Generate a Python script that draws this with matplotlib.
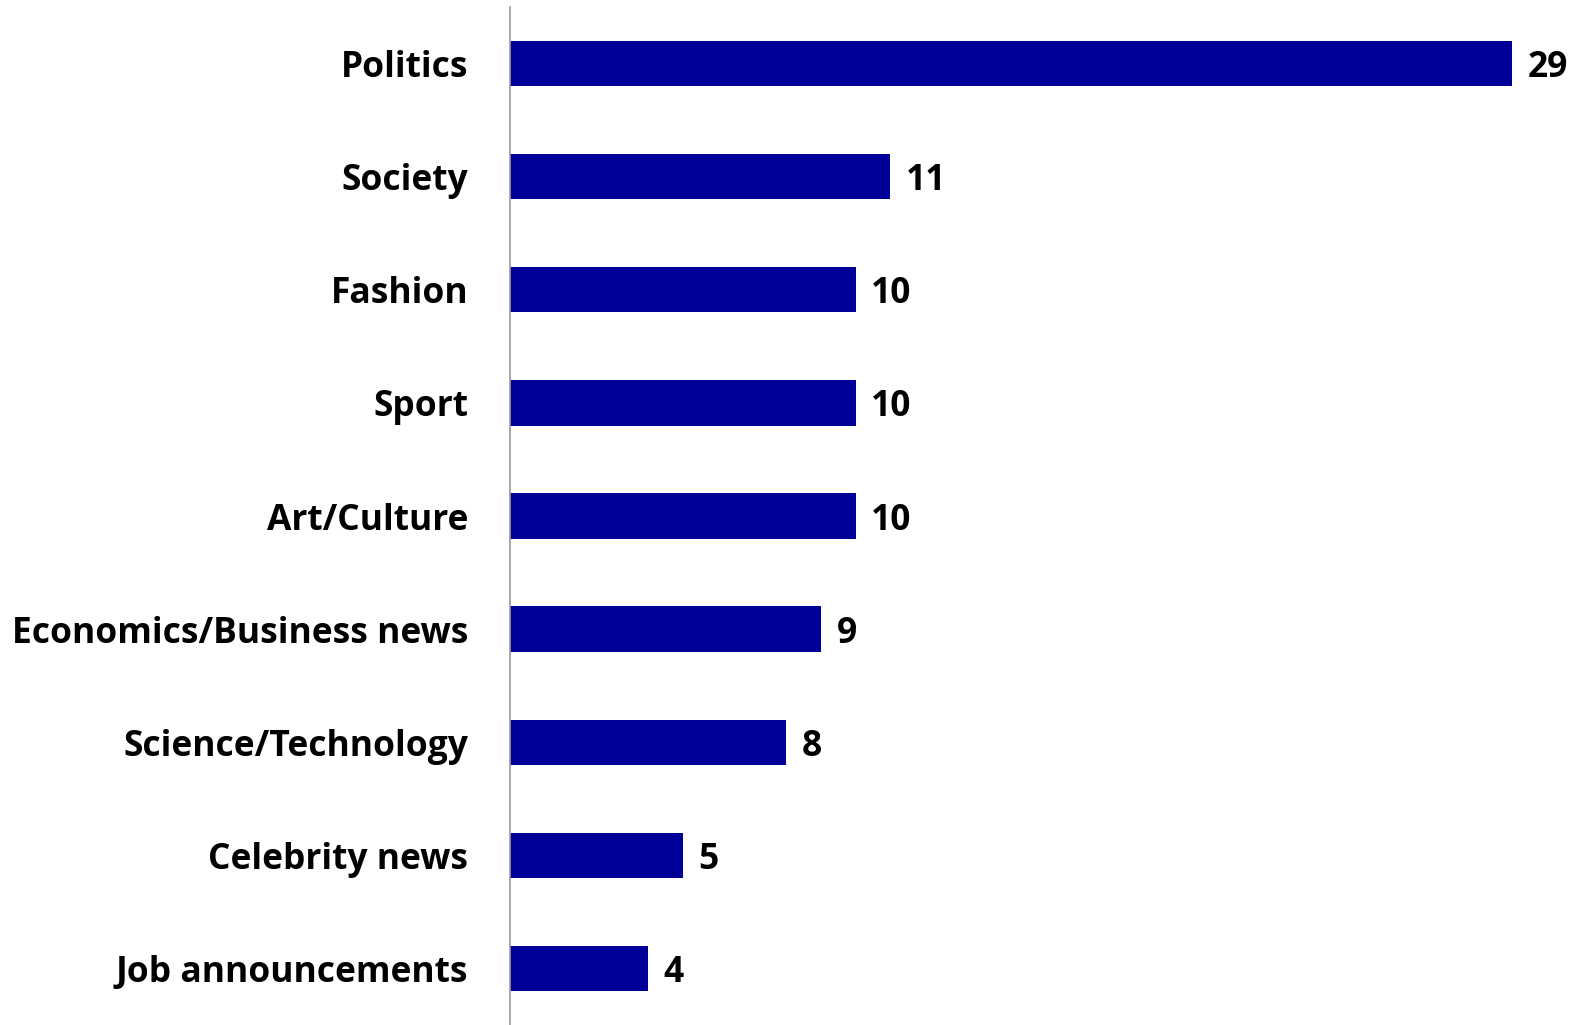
import matplotlib.pyplot as plt

categories = ["Politics", "Society", "Fashion", "Sport", "Art/Culture",
              "Economics/Business news", "Science/Technology",
              "Celebrity news", "Job announcements"]
values = [29, 11, 10, 10, 10, 9, 8, 5, 4]

plt.rcParams['font.family'] = ['Open Sans', 'DejaVu Sans']

fig = plt.figure(figsize=(15.77, 10.25), dpi=100)
ax = fig.add_axes([510 / 1577, 0, 1054 / 1577, 1018 / 1025])

ypos = list(range(len(categories)))
ax.barh(ypos, values, height=0.4, color="#000099")

for y, v in zip(ypos, values):
    ax.text(v + 0.45, y, str(v), va="center_baseline", ha="left",
            fontsize=25.5, fontweight="bold", color="black")

ax.set_ylim(len(categories) - 0.5, -0.5)
ax.set_xlim(0, 30.5)
ax.set_yticks(ypos)
ax.set_yticklabels(categories, fontsize=25.5, fontweight="bold")
ax.tick_params(axis="y", length=0, pad=30)
ax.set_xticks([])

for s in ["top", "right", "bottom"]:
    ax.spines[s].set_visible(False)
ax.spines["left"].set_color("#999999")
ax.spines["left"].set_linewidth(1.2)

fig.savefig("out.png", dpi=100)
